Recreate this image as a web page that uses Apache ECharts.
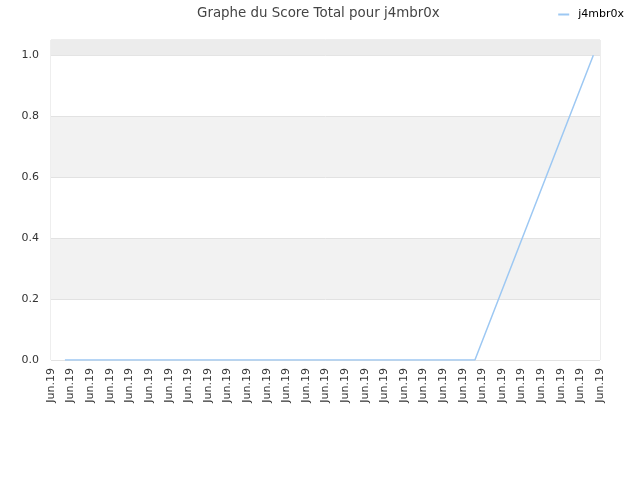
<!DOCTYPE html>
<html>
<head>
<meta charset="utf-8">
<script src="https://cdn.jsdelivr.net/npm/echarts@6/dist/echarts.min.js"></script>
<style>html,body{margin:0;padding:0;background:#fff}#c{width:640px;height:480px}</style>
</head>
<body>
<div id="c"></div>
<script>
var titleText = 'Graphe du Score Total pour j4mbr0x';
var seriesName = 'j4mbr0x';
var tickLabel = 'Jun.19';
var tickCount = 28;
var xPos = [0.71, 21.62, 27.66];
var scores = [0, 0, 1];

var chart = echarts.init(document.getElementById('c'), null, {renderer: 'canvas'});
var font = 'DejaVu Sans';
chart.setOption({
  animation: false,
  backgroundColor: '#ffffff',
  textStyle: {fontFamily: font},
  title: {
    text: titleText, left: 192, top: 2,
    textStyle: {fontFamily: font, fontSize: 13.4, fontWeight: 'normal', color: '#444'}
  },
  legend: {
    right: 11, top: 4, itemWidth: 11, itemHeight: 2, itemGap: 6,
    icon: 'rect',
    textStyle: {fontFamily: font, fontSize: 11, color: '#000', padding: [0, 0, 0, 4]},
    data: [seriesName]
  },
  grid: {left: 51, right: 40, top: 40, bottom: 120, show: true, borderColor: '#dcdcdc', borderWidth: 1, backgroundColor: 'transparent'},
  xAxis: {
    type: 'value', min: 0, max: tickCount, interval: 1,
    axisLine: {show: false}, axisTick: {show: false}, splitLine: {show: false},
    axisLabel: {rotate: 90, margin: 8, fontSize: 11, color: '#333', fontFamily: font,
      padding: [0, 0, 4, 0],
      formatter: function(){ return tickLabel; }}
  },
  yAxis: {
    type: 'value', min: 0, max: 1.05, interval: 0.2,
    axisLine: {show: false}, axisTick: {show: false},
    splitLine: {show: true, lineStyle: {color: '#e2e2e2', width: 1}},
    splitArea: {show: true, areaStyle: {color: ['#ffffff', '#f2f2f2']}},
    axisLabel: {fontSize: 11, color: '#333', fontFamily: font, margin: 12, showMaxLabel: false,
      formatter: function(v){ return v > 1.0001 ? '' : v.toFixed(1); }}
  },
  series: [{
    name: seriesName, type: 'line', showSymbol: false, symbol: 'none',
    lineStyle: {color: '#9dc8f3', width: 1.5}, itemStyle: {color: '#9dc8f3'},
    data: xPos.map(function(x, i){ return [x, scores[i]]; }),
    markArea: {silent: true, itemStyle: {color: '#ececec'}, data: [[{yAxis: 1.0}, {yAxis: 1.05}]]}
  }]
});
</script>
</body>
</html>
